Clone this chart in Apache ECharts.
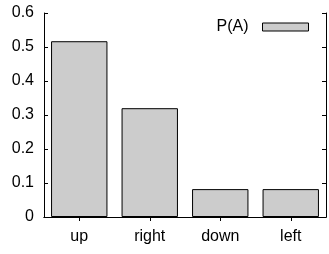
<!DOCTYPE html>
<html>
<head>
<meta charset="utf-8">
<script src="https://cdn.jsdelivr.net/npm/echarts@6/dist/echarts.min.js"></script>
<style>
  html, body { margin: 0; padding: 0; background: #fff; }
  #chart-panel { width: 329px; height: 254px; }
</style>
</head>
<body>
<div id="chart-panel"></div>
<script>
// 动作类别与概率
const categories = ['up', 'right', 'down', 'left']
const probs = [0.517, 0.32, 0.082, 0.082]
const seriesName = 'P(A)'

const font = 'Liberation Sans, Arial, Helvetica, sans-serif'
let myChart = echarts.init(document.getElementById('chart-panel'))

let tickStyle = { show: true, inside: true, length: 4, lineStyle: { color: '#000', width: 1 } }
let lineStyle = { show: true, lineStyle: { color: '#000', width: 1 } }

myChart.setOption({
    animation: false,
    grid: { left: 44, right: 3, top: 13, bottom: 37 },
    legend: {
        data: [seriesName],
        right: 15, top: 14,
        align: 'right',
        itemWidth: 46, itemHeight: 8, itemGap: 10,
        icon: 'rect',
        itemStyle: { borderWidth: 1, borderColor: '#000' },
        textStyle: { fontFamily: font, fontSize: 16, color: '#000', padding: [0, 9, 0, 0] }
    },
    xAxis: [
        {
            type: 'category', data: categories, position: 'bottom',
            axisLine: lineStyle,
            axisTick: Object.assign({ alignWithLabel: true }, tickStyle),
            axisLabel: { color: '#000', fontFamily: font, fontSize: 16, margin: 12 }
        },
        {
            type: 'category', data: categories, position: 'top',
            axisLine: lineStyle,
            axisTick: Object.assign({ alignWithLabel: true }, tickStyle),
            axisLabel: { show: false }
        }
    ],
    yAxis: [
        {
            type: 'value', min: 0, max: 0.6, interval: 0.1, position: 'left',
            axisLine: lineStyle, axisTick: tickStyle,
            splitLine: { show: false },
            axisLabel: { color: '#000', fontFamily: font, fontSize: 16, margin: 10 }
        },
        {
            type: 'value', min: 0, max: 0.6, interval: 0.1, position: 'right',
            axisLine: lineStyle, axisTick: tickStyle,
            splitLine: { show: false },
            axisLabel: { show: false }
        }
    ],
    series: [{
        name: seriesName,
        type: 'bar',
        data: probs,
        barWidth: '80%',
        itemStyle: { color: '#cccccc', borderColor: '#000', borderWidth: 1 }
    }]
})
</script>
</body>
</html>
